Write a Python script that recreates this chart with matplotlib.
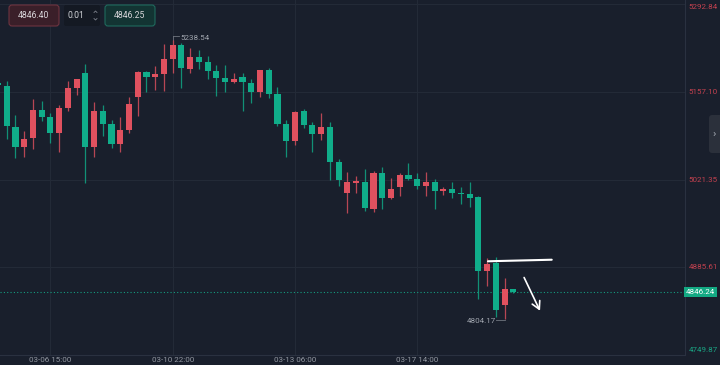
import matplotlib
matplotlib.use("Agg")
import matplotlib.pyplot as plt
from matplotlib.patches import FancyBboxPatch
from matplotlib.transforms import blended_transform_factory

plt.rcParams['font.family'] = ['Roboto', 'DejaVu Sans']

# OHLC (one candle per slot)
opens = [5171, 5166, 5103, 5071, 5086, 5129, 5118, 5093, 5133, 5164,
         5186, 5072, 5127, 5107, 5076, 5098, 5150, 5188, 5180, 5185,
         5208, 5230, 5193, 5211, 5203, 5190, 5179, 5172, 5181, 5171,
         5157, 5191, 5154, 5108, 5081, 5127, 5106, 5092, 5103, 5048,
         5001, 5016, 5018, 4976, 5031, 4993, 5010, 5029, 5022, 5012,
         5018, 5004, 5006, 5001, 4999, 4994, 4879, 4892, 4827, 4851]
highs = [5173, 5174, 5122, 5097, 5146, 5143, 5125, 5137, 5174, 5178,
         5201, 5142, 5137, 5114, 5118, 5150, 5189, 5189, 5197, 5231,
         5238.54, 5233, 5225, 5223, 5213, 5199, 5199, 5186, 5186, 5177,
         5192, 5195, 5165, 5114, 5127, 5131, 5110, 5124, 5110, 5053,
         5033, 5027, 5038, 5035, 5040, 5023, 5032, 5047, 5031, 5033,
         5022, 5010, 5017, 5009, 5018, 4996, 4900, 4901, 4868, 4852]
lows = [5166, 5084, 5054, 5057, 5069, 5112, 5078, 5064, 5128, 5152,
        5016, 5057, 5089, 5070, 5064, 5094, 5120, 5157, 5160, 5159,
        5187, 5164, 5186, 5193, 5178, 5151, 5157, 5171, 5128, 5140,
        5150, 5148, 5104, 5057, 5075, 5101, 5064, 5083, 5021, 5011,
        4969, 5000, 4973, 4971, 4975, 4991, 4996, 5021, 5007, 4996,
        4975, 4998, 4993, 4984, 4979, 4836, 4856, 4808, 4804.17, 4845]
closes = [5168, 5104, 5071, 5084, 5129, 5118, 5093, 5132, 5163, 5177,
          5071, 5127, 5107, 5076, 5098, 5138, 5188, 5180, 5185, 5208,
          5230, 5195, 5211, 5203, 5190, 5179, 5172, 5178, 5172, 5157,
          5191, 5154, 5108, 5081, 5126, 5106, 5092, 5103, 5049, 5020,
          5017, 5019, 4977, 5032, 4993, 5007, 5029, 5022, 5012, 5018,
          5004, 5006, 5000, 4999, 4993, 4880, 4891, 4819, 4851, 4846.24]

time_ticks = [6, 20, 34, 48]
time_labels = ['03-06 15:00', '03-10 22:00', '03-13 06:00', '03-17 14:00']
price_ticks = [5292.84, 5157.10, 5021.35, 4885.61, 4749.87]
last_price = 4846.24
bid, step, ask = '4846.40', '0.01', '4846.25'

# hand drawn marks on the chart (slot, price)
trend_line = [(56.1, 4894.5), (63.4, 4896.9)]
arrow_from = (60.1, 4873.2)
arrow_to = (62.2, 4813.8)

BG = '#191f2c'
GRID = '#232a37'
UP = '#e0515f'
DOWN = '#10ad8a'
TXT = '#9297a1'

fig = plt.figure(figsize=(7.2, 3.65), dpi=100, facecolor=BG)
ax = fig.add_axes([0, 10.5 / 365, 685 / 720, 354.5 / 365])
ax.set_facecolor(BG)

for i, (o, h, l, c) in enumerate(zip(opens, highs, lows, closes)):
    col = UP if c > o else DOWN
    ax.vlines(i, l, h, color=col, lw=0.9, alpha=0.8, zorder=3)
    body = max(abs(c - o), 1.6)
    ax.bar(i, body, bottom=min(o, c), width=0.7, color=col, lw=0, zorder=4)

ax.set_xlim(0.23, 78.66)
ax.set_ylim(4749.87, 5299.82)
ax.set_xticks(time_ticks)
ax.set_xticklabels(time_labels)
ax.set_yticks(price_ticks)
ax.tick_params(axis='x', length=0, pad=2, labelsize=5.8, colors=TXT)
ax.tick_params(axis='y', length=0, labelleft=False)
ax.grid(color=GRID, lw=0.8)
for s in ['top', 'left']:
    ax.spines[s].set_visible(False)
for s in ['right', 'bottom']:
    ax.spines[s].set_color('#2a3140')
    ax.spines[s].set_linewidth(0.8)

# right price scale
tr = blended_transform_factory(ax.transAxes, ax.transData)
for k, p in enumerate(price_ticks):
    col = '#c2414f' if p > last_price else '#1aa383'
    va = 'center'
    yy = p
    if k == 0:
        va, yy = 'top', p + 1
    elif k == len(price_ticks) - 1:
        va, yy = 'bottom', p + 2
    ax.text(1.005, yy, '%.2f' % p, transform=tr, ha='left', va=va,
            fontsize=5.8, color=col, clip_on=False)

# last price line and tag
ax.axhline(last_price, color='#159c80', lw=0.8, ls=(0, (1, 2)), zorder=2)
ax.text(1.0015, last_price, '%.2f' % last_price, transform=tr, ha='left',
        va='center', fontsize=5.8, color='white', clip_on=False,
        bbox=dict(boxstyle='square,pad=0.25', fc='#13a983', ec='none'))

# high / low labels
hi = highs.index(max(highs))
lo = lows.index(min(lows))
ax.plot([hi, hi + 0.7], [highs[hi] + 6, highs[hi] + 6], color='#6f747e', lw=0.6)
ax.plot([hi, hi], [highs[hi] + 6, highs[hi]], color='#6f747e', lw=0.6)
ax.text(hi + 0.9, highs[hi] + 2, '%.2f' % highs[hi], fontsize=5.8,
        color='#a0a5ae', va='center', ha='left')
ax.plot([lo - 0.95, lo], [lows[lo] - 1.5, lows[lo] - 1.5], color='#6f747e', lw=0.6)
ax.text(lo - 1.0, lows[lo] - 2, '%.2f' % lows[lo], fontsize=5.8,
        color='#a0a5ae', va='center', ha='right')

# white drawings
ax.plot([p[0] for p in trend_line], [p[1] for p in trend_line],
        color='white', lw=1.5, zorder=6, solid_capstyle='round')
ax.annotate('', xy=arrow_to, xytext=arrow_from,
            arrowprops=dict(arrowstyle='->,head_length=0.55,head_width=0.3',
                            color='white', lw=1.2), zorder=6)

# toolbar overlay in pixel coords
ui = fig.add_axes([0, 0, 1, 1], zorder=10)
ui.set_xlim(0, 720)
ui.set_ylim(365, 0)
ui.axis('off')
ui.patch.set_alpha(0)

boxes = [(9, 50, '#3a1f29', '#6e3440', bid), (105, 50, '#133433', '#1f6a5d', ask)]
for x0, w, fc, ec, label in boxes:
    ui.add_patch(FancyBboxPatch((x0, 5), w, 21, boxstyle='round,pad=0,rounding_size=3',
                                fc=fc, ec=ec, lw=0.8))
    ui.text(x0 + w / 2, 15.5, label, ha='center', va='center', fontsize=6.2, color='#d8d6da')
ui.add_patch(FancyBboxPatch((64, 5), 36, 21, boxstyle='round,pad=0,rounding_size=2',
                            fc='#141923', ec='none'))
ui.text(68, 15.5, step, ha='left', va='center', fontsize=6.2, color='#d0d3d8')
ui.plot([94, 95.5, 97], [12.5, 11, 12.5], color='#7d828c', lw=0.6)
ui.plot([94, 95.5, 97], [18.5, 20, 18.5], color='#7d828c', lw=0.6)

# side tab
ui.add_patch(FancyBboxPatch((709, 115), 14, 38, boxstyle='round,pad=0,rounding_size=3',
                            fc='#2b303b', ec='none'))
ui.text(714.5, 134, '\u203a', ha='center', va='center', fontsize=8, color='#a6abb4')

fig.savefig('out.png', dpi=100, facecolor=BG)
